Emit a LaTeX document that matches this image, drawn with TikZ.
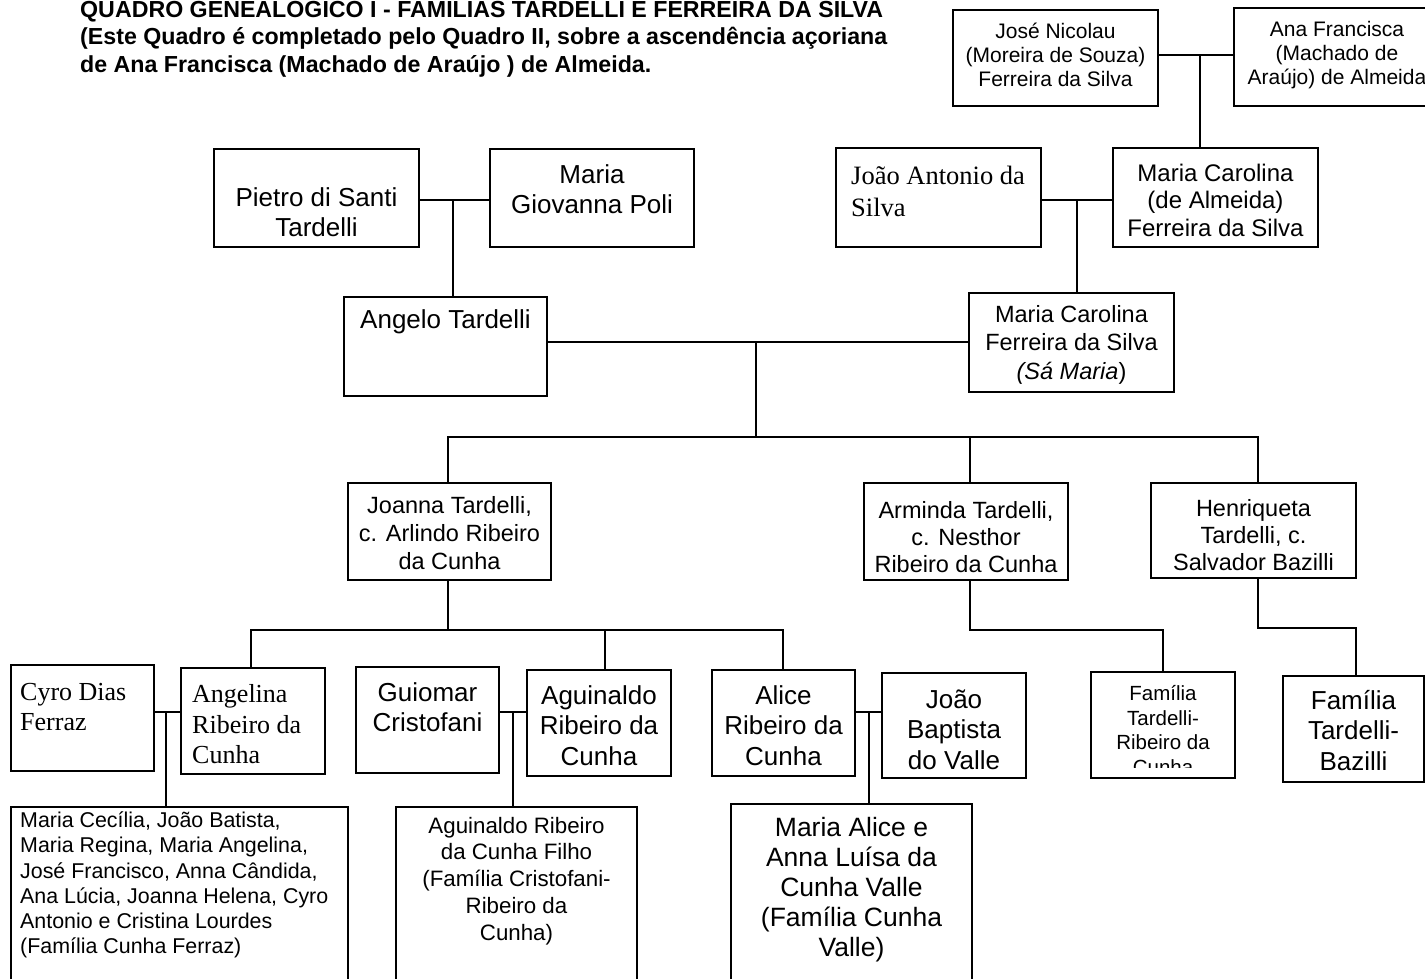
\documentclass[tikz,border=0pt]{standalone}
\usepackage{fontspec}
\setmainfont{Liberation Sans}
\newfontfamily\tms{Liberation Serif}
\newcommand\fsz[2]{\fontsize{#1}{#2}\selectfont}

\begin{document}
\begin{tikzpicture}[x=1pt,y=-1pt,line cap=butt,line join=miter,
  box/.style={draw,line width=2pt,inner sep=0pt},
  txt/.style={align=center,inner sep=0pt},
  txl/.style={align=left,inner sep=0pt,anchor=west},
  link/.style={line width=2pt}]
\useasboundingbox (0,0) rectangle (1425,978);
\clip (0,0) rectangle (1425,978);

% title
\node[txl,font={\fsz{23.2}{27.5}\bfseries}] (title) at (80,37)
  {QUADRO GENEALÓGICO I - FAMÍLIAS TARDELLI E FERREIRA DA SILVA\\
   (Este Quadro é completado pelo Quadro II, sobre a ascendência açoriana\\
   de Ana Francisca (Machado de Araújo ) de Almeida.};

% generation 1
\node[box,minimum width=205,minimum height=96] (jose) at (1055.5,58) {};
\node[txt,font={\fsz{21}{24}}] (jose-t) at (1055.5,55) {José Nicolau\\(Moreira de Souza)\\Ferreira da Silva};
\node[box,minimum width=206,minimum height=98] (ana) at (1337,57) {};
\node[txt,font={\fsz{21}{24}}] (ana-t) at (1337,55) {Ana Francisca\\(Machado de\\Araújo) de Almeida};

% generation 2
\node[box,minimum width=205,minimum height=98] (pietro) at (316.5,198) {};
\node[txt,font={\fsz{26}{30}}] (pietro-t) at (316.5,212) {Pietro di Santi\\Tardelli};
\node[box,minimum width=204,minimum height=98] (mgp) at (592,198) {};
\node[txt,font={\fsz{26}{30}}] (mgp-t) at (592,189.5) {Maria\\Giovanna Poli};
\node[box,minimum width=205,minimum height=99] (joao) at (938.5,197.5) {};
\node[txl,font={\tms\fsz{26.5}{32}}] (joao-t) at (851,191) {João Antonio da\\Silva};
\node[box,minimum width=205,minimum height=99] (mcar1) at (1215.5,197.5) {};
\node[txt,font={\fsz{24}{27.5}}] (mcar1-t) at (1215.5,200) {Maria Carolina\\(de Almeida)\\Ferreira da Silva};

% generation 3
\node[box,minimum width=203,minimum height=99] (angelo) at (445.5,346.5) {};
\node[txt,font={\fsz{26}{30}}] (angelo-t) at (445.5,322) {Angelo Tardelli};
\node[box,minimum width=205,minimum height=99] (mcar2) at (1071.5,342.5) {};
\node[txt,font={\fsz{23.5}{28.5}}] (mcar2-t) at (1071.5,344.5) {Maria Carolina\\Ferreira da Silva\\\textit{(Sá Maria})};

% generation 4
\node[box,minimum width=203,minimum height=97] (joanna) at (449.5,531.5) {};
\node[txt,font={\fsz{23.5}{28}}] (joanna-t) at (449.5,533.5) {Joanna Tardelli,\\c. Arlindo Ribeiro\\da Cunha};
\node[box,minimum width=204,minimum height=97] (arminda) at (966,531.5) {};
\node[txt,font={\fsz{23.5}{27}}] (arminda-t) at (966,537) {Arminda Tardelli,\\c. Nesthor\\Ribeiro da Cunha};
\node[box,minimum width=205,minimum height=95] (henri) at (1253.5,530.5) {};
\node[txt,font={\fsz{23.5}{27}}] (henri-t) at (1253.5,535) {Henriqueta\\Tardelli, c.\\Salvador Bazilli};

% generation 5
\node[box,minimum width=143,minimum height=106] (cyro) at (82.5,718) {};
\node[txl,font={\tms\fsz{26}{30}}] (cyro-t) at (20,707) {Cyro Dias\\Ferraz};
\node[box,minimum width=144,minimum height=106] (angelina) at (253,721) {};
\node[txl,font={\tms\fsz{26}{30.5}}] (angelina-t) at (192,724.5) {Angelina\\Ribeiro da\\Cunha};
\node[box,minimum width=143,minimum height=106] (guiomar) at (427.5,720) {};
\node[txt,font={\fsz{26}{30}}] (guiomar-t) at (427.5,707) {Guiomar\\Cristofani};
\node[box,minimum width=144,minimum height=106] (aguinaldo) at (599,723) {};
\node[txt,font={\fsz{26}{30.5}}] (aguinaldo-t) at (599,725.5) {Aguinaldo\\Ribeiro da\\Cunha};
\node[box,minimum width=143,minimum height=106] (alice) at (783.5,723) {};
\node[txt,font={\fsz{26}{30.5}}] (alice-t) at (783.5,725.5) {Alice\\Ribeiro da\\Cunha};
\node[box,minimum width=144,minimum height=105] (joaob) at (954,725.5) {};
\node[txt,font={\fsz{26}{30.5}}] (joaob-t) at (954,729.5) {João\\Baptista\\do Valle};
\node[box,minimum width=144,minimum height=106] (famtrc) at (1163,725) {};
\begin{scope}
  \clip (1093,674) rectangle (1233,767);
  \node[txt,font={\fsz{20.5}{24.7}}] (famtrc-t) at (1163,730) {Família\\Tardelli-\\Ribeiro da\\Cunha};
\end{scope}
\node[box,minimum width=141,minimum height=106] (famtb) at (1353.5,729) {};
\node[txt,font={\fsz{26}{30.5}}] (famtb-t) at (1353.5,730.5) {Família\\Tardelli-\\Bazilli};

% generation 6
\node[box,minimum width=337,minimum height=193] (kids1) at (179.5,903.5) {};
\node[txl,font={\fsz{21.4}{25.2}}] (kids1-t) at (20,885) {Maria Cecília, João Batista,\\Maria Regina, Maria Angelina,\\José Francisco, Anna Cândida,\\Ana Lúcia, Joanna Helena, Cyro\\Antonio e Cristina Lourdes\\(Família Cunha Ferraz)};
\node[box,minimum width=241,minimum height=193] (kids2) at (516.5,903.5) {};
\node[txt,font={\fsz{22.3}{26.8}}] (kids2-t) at (516.5,881) {Aguinaldo Ribeiro\\da Cunha Filho\\(Família Cristofani-\\Ribeiro da\\Cunha)};
\node[box,minimum width=241,minimum height=196] (kids3) at (851.5,902) {};
\node[txt,font={\fsz{26.5}{30}}] (kids3-t) at (851.5,890) {Maria Alice e\\Anna Luísa da\\Cunha Valle\\(Família Cunha\\Valle)};

% marriages
\coordinate (m-jose) at (1200,55);
\coordinate (m-joao) at (1077,200);
\coordinate (m-pietro) at (453,200);
\coordinate (m-angelo) at (756,342);
\coordinate (m-cyro) at (166,712);
\coordinate (m-guiomar) at (513,712);
\coordinate (m-alice) at (869,712);
\coordinate (bar-a) at (0,437);
\coordinate (bar-b) at (0,630);
\coordinate (bar-c) at (0,628);

\draw[link] (m-jose -| jose.east) -- (m-jose -| ana.west);
\draw[link] (m-jose) -- (m-jose |- mcar1.north);
\draw[link] (m-joao -| joao.east) -- (m-joao -| mcar1.west);
\draw[link] (m-joao) -- (m-joao |- mcar2.north);
\draw[link] (m-pietro -| pietro.east) -- (m-pietro -| mgp.west);
\draw[link] (m-pietro) -- (m-pietro |- angelo.north);
\draw[link] (m-angelo -| angelo.east) -- (m-angelo -| mcar2.west);
\draw[link] (m-angelo) -- (m-angelo |- bar-a);
\draw[link] ([xshift=-2]joanna.north) -- ([xshift=-2]joanna.north |- bar-a) -- ([xshift=4]henri.north |- bar-a) -- ([xshift=4]henri.north);
\draw[link] ([xshift=4]arminda.north) -- ([xshift=4]arminda.north |- bar-a);

% children
\draw[link] ([xshift=-2]joanna.south) -- ([xshift=-2]joanna.south |- bar-b);
\draw[link] ([xshift=-2]angelina.north) -- ([xshift=-2]angelina.north |- bar-b) -- ([xshift=-1]alice.north |- bar-b) -- ([xshift=-1]alice.north);
\draw[link] ([xshift=6]aguinaldo.north) -- ([xshift=6]aguinaldo.north |- bar-b);
\draw[link] ([xshift=4]arminda.south) -- ([xshift=4]arminda.south |- bar-b) -| (famtrc.north);
\draw[link] ([xshift=4]henri.south) -- ([xshift=4]henri.south |- bar-c) -| ([xshift=2]famtb.north);

\draw[link] (m-cyro -| cyro.east) -- (m-cyro -| angelina.west);
\draw[link] (m-cyro) -- (m-cyro |- kids1.north);
\draw[link] (m-guiomar -| guiomar.east) -- (m-guiomar -| aguinaldo.west);
\draw[link] (m-guiomar) -- (m-guiomar |- kids2.north);
\draw[link] (m-alice -| alice.east) -- (m-alice -| joaob.west);
\draw[link] (m-alice) -- (m-alice |- kids3.north);
\end{tikzpicture}
\end{document}
